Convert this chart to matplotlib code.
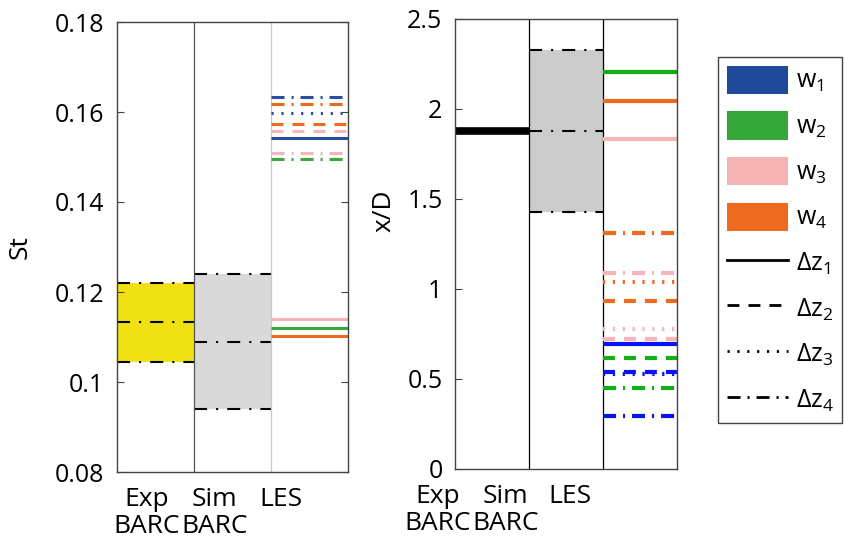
import matplotlib
matplotlib.use('Agg')
import matplotlib.pyplot as plt
from matplotlib.patches import Patch
from matplotlib.lines import Line2D

plt.rcParams['font.family'] = ['Open Sans', 'DejaVu Sans']
plt.rcParams['mathtext.fontset'] = 'custom'
plt.rcParams['mathtext.rm'] = 'Open Sans'
plt.rcParams['mathtext.it'] = 'Open Sans'
plt.rcParams['lines.scale_dashes'] = False

# ---- data ----
col_labels = ['Exp\nBARC', 'Sim\nBARC', 'LES']

# Strouhal number panel
st_exp = [0.1045, 0.1133, 0.1219]      # low, mean, high
st_sim = [0.0940, 0.1090, 0.1240]
st_les_w = [1, 1, 1, 2, 2, 3, 3, 3, 4, 4, 4]
st_les_dz = [1, 3, 4, 1, 4, 1, 2, 4, 1, 2, 4]
st_les = [0.1542, 0.1598, 0.1633, 0.1119, 0.1496,
          0.1141, 0.1557, 0.1509, 0.1102, 0.1573, 0.1618]

# recirculation length panel
xd_exp = 1.880
xd_sim = [1.427, 1.880, 2.326]
xd_les_w = [1, 1, 1, 1, 2, 2, 2, 3, 3, 3, 3, 4, 4, 4, 4]
xd_les_dz = [1, 2, 3, 4, 1, 2, 4, 1, 2, 3, 4, 1, 2, 3, 4]
xd_les = [0.693, 0.540, 0.530, 0.292, 2.207, 0.615, 0.450,
          1.834, 0.723, 0.780, 1.087, 2.045, 0.935, 1.038, 1.310]

w_names = ['w$_1$', 'w$_2$', 'w$_3$', 'w$_4$']
dz_names = ['Δz$_1$', 'Δz$_2$', 'Δz$_3$', 'Δz$_4$']

# ---- styles ----
w_colors_st = {1: '#2b4fa0', 2: '#3aa83a', 3: '#f6b6b8', 4: '#ee6a1f'}
w_colors_xd = {1: '#0a14f0', 2: '#12b012', 3: '#f8b4b6', 4: '#ee6a1f'}
legend_colors = ['#1f4a99', '#33a73a', '#f6b3b4', '#ee6a1f']
dz_dashes = {1: None, 2: (8.6, 6.5), 3: (1.6, 5.5), 4: (9.4, 5.0, 1.5, 5.0)}
box_dashes = (9.4, 6.5, 1.5, 6.5)
frame_col = '#444444'

fig = plt.figure(figsize=(8.44, 5.41), dpi=100)
ax1 = fig.add_axes([117 / 844, 1 - 472 / 541, 231 / 844, 450 / 541])
ax2 = fig.add_axes([455 / 844, 1 - 469 / 541, 222 / 844, 450 / 541])


def hline(ax, x0, x1, y, color, lw, dz):
    line, = ax.plot([x0, x1], [y, y], color=color, lw=lw, solid_capstyle='butt',
                    dash_capstyle='butt')
    if dz_dashes[dz] is not None:
        line.set_dashes(dz_dashes[dz])
    return line


def box_lines(ax, x0, x1, vals):
    for v in vals:
        ax.plot([x0, x1], [v, v], color='k', lw=1.5, dashes=box_dashes,
                dash_capstyle='butt')


def style_axes(ax, labels, label_x, both_sides):
    ax.set_xlim(0, 3)
    ax.set_xticks([])
    for s in ax.spines.values():
        s.set_color(frame_col)
        s.set_linewidth(1.0)
    ax.tick_params(axis='y', direction='in', length=5, width=0.8, color=frame_col,
                   labelsize=18, pad=9, right=both_sides)
    for x, lab in zip(label_x, labels):
        ax.annotate(lab, xy=(x, 0), xycoords=('data', 'axes fraction'),
                    xytext=(0, -11), textcoords='offset points', ha='center',
                    va='top', fontsize=19, linespacing=1.1,
                    annotation_clip=False)


# ---- left panel: St ----
ax1.fill_between([0, 1], st_exp[0], st_exp[2], color='#f0e212', lw=0)
box_lines(ax1, 0, 1, st_exp)
ax1.fill_between([1, 2], st_sim[0], st_sim[2], color='#d9d9d9', lw=0)
box_lines(ax1, 1, 2, st_sim)
ax1.axvline(1, color='#555555', lw=0.9)
ax1.axvline(2, color='#c8c8c8', lw=0.9)
for w, dz, v in zip(st_les_w, st_les_dz, st_les):
    hline(ax1, 2, 3, v, w_colors_st[w], 2.2, dz)

ax1.set_ylim(0.08, 0.18)
ax1.set_yticks([0.08, 0.10, 0.12, 0.14, 0.16, 0.18])
ax1.set_yticklabels(['0.08', '0.1', '0.12', '0.14', '0.16', '0.18'])
style_axes(ax1, col_labels, [0.38, 1.27, 2.13], True)
ax1.set_ylabel('St', fontsize=19)
ax1.yaxis.set_label_coords(-0.365, 0.5)

# ---- right panel: x/D ----
ax2.plot([0, 1], [xd_exp, xd_exp], color='k', lw=5.5, solid_capstyle='butt')
ax2.fill_between([1, 2], xd_sim[0], xd_sim[2], color='#cccccc', lw=0)
box_lines(ax2, 1, 2, xd_sim)
ax2.axvline(1, color='k', lw=0.9)
ax2.axvline(2, color='k', lw=0.9)
for w, dz, v in zip(xd_les_w, xd_les_dz, xd_les):
    hline(ax2, 2, 3, v, w_colors_xd[w], 3.0, dz)

ax2.set_ylim(0, 2.5)
ax2.set_yticks([0, 0.5, 1, 1.5, 2, 2.5])
ax2.set_yticklabels(['0', '0.5', '1', '1.5', '2', '2.5'])
style_axes(ax2, col_labels, [-0.23, 0.68, 1.55], False)
ax2.set_ylabel('x/D', fontsize=19)
ax2.yaxis.set_label_coords(-0.265, 0.575)

# ---- legend ----
handles = [Patch(facecolor=c, edgecolor='none') for c in legend_colors]
handles += [Line2D([], [], color='k', lw=2.0, dashes=dz_dashes[i] if dz_dashes[i] else (None, None))
            for i in range(1, 5)]
leg = fig.legend(handles, w_names + dz_names, loc='upper left',
                 bbox_to_anchor=(718 / 844, 1 - 57 / 541), fontsize=18,
                 handlelength=2.45, handleheight=1.36, labelspacing=0.68,
                 handletextpad=0.3, borderpad=0.35, borderaxespad=0.0,
                 fancybox=False, framealpha=1.0)
leg.get_frame().set_edgecolor(frame_col)
leg.get_frame().set_linewidth(1.0)

fig.savefig('out.png', dpi=100)
